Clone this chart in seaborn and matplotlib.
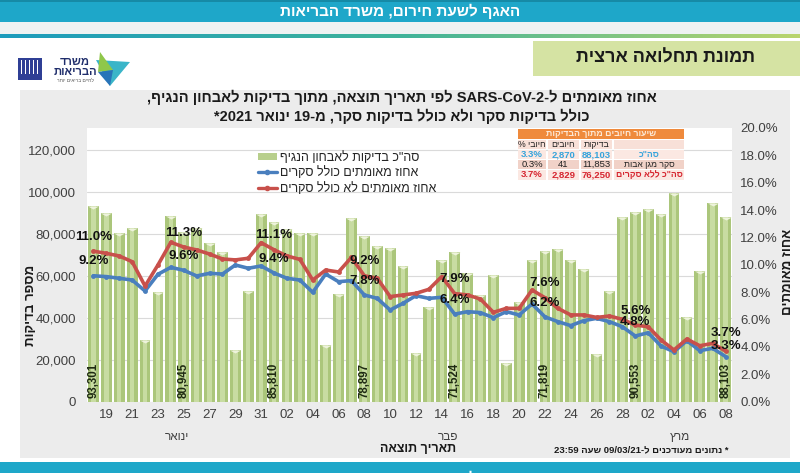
import re
import numpy as np
import pandas as pd
import matplotlib
matplotlib.use("Agg")
import matplotlib.pyplot as plt
import matplotlib.transforms as mtransforms
from matplotlib.patches import Rectangle, Polygon, Patch
from matplotlib.lines import Line2D
import seaborn as sns

# ---------------- data ----------------
start_date = "2021-01-18"
tests = [93301, 90100, 80250, 82960, 29300, 52200, 88500, 80945, 82960, 75800,
         71500, 24800, 52700, 89300, 85810, 82480, 80570, 80300, 27200, 51400,
         87700, 78897, 74200, 73400, 64600, 23250, 45060, 67500, 71524, 61500,
         51000, 60350, 18470, 47600, 67360, 71819, 72900, 67360, 63500, 22800,
         52700, 88060, 90553, 91700, 89650, 99360, 40290, 62260, 94900, 88103]
pct_incl = [9.2, 9.14, 9.02, 8.89, 8.09, 9.31, 9.82, 9.6, 9.19, 9.38,
            9.33, 9.99, 9.75, 9.92, 9.4, 9.02, 8.89, 7.99, 9.33, 8.77,
            8.85, 7.8, 7.55, 6.70, 7.19, 7.75, 7.55, 7.63, 6.4, 6.58,
            6.51, 6.14, 6.58, 6.34, 7.14, 6.2, 5.85, 5.56, 5.92, 6.09,
            5.85, 5.48, 4.8, 5.04, 4.07, 3.65, 4.46, 3.73, 3.90, 3.3]
pct_excl = [11.0, 10.84, 10.65, 10.23, 8.45, 9.99, 11.65, 11.3, 11.09, 10.79,
            10.43, 10.36, 10.48, 11.62, 11.1, 10.65, 10.4, 8.89, 9.62, 9.48,
            10.55, 9.2, 9.02, 7.68, 7.80, 7.92, 8.21, 9.14, 7.9, 7.80,
            7.50, 6.53, 6.82, 6.82, 8.16, 7.6, 6.82, 6.34, 6.34, 6.16,
            6.26, 6.02, 5.6, 5.48, 4.51, 3.78, 4.58, 4.09, 4.26, 3.7]
label_idx = [0, 7, 14, 21, 28, 35, 42, 49]
month_names = {1: "ינואר", 2: "פבר", 3: "מרץ"}

legend_labels = ['סה"כ בדיקות לאבחון הנגיף', "אחוז מאומתים כולל סקרים",
                 "אחוז מאומתים לא כולל סקרים"]
table_title = "שיעור חיובים מתוך הבדיקות"
table_cols = ["חיובי %", "חיובים", "בדיקות"]
table_rows = ['סה"כ', "סקר מגן אבות", 'סה"כ ללא סקרים']
table_pct = ["3.3%", "0.3%", "3.7%"]
table_pos = ["2,870", "41", "2,829"]
table_tests = ["88,103", "11,853", "76,250"]

title1 = "אחוז מאומתים ל-SARS-CoV-2 לפי תאריך תוצאה, מתוך בדיקות לאבחון הנגיף,"
title2 = "כולל בדיקות סקר ולא כולל בדיקות סקר, מ-19 ינואר 2021*"
header_text = "האגף לשעת חירום, משרד הבריאות"
box_text = "תמונת תחלואה ארצית"
ylabel_left = "מספר בדיקות"
ylabel_right = "אחוז מאומתים"
xlabel = "תאריך תוצאה"
footnote = "* נתונים מעודכנים ל-09/03/21 שעה 23:59"


def heb(s):
    """Simple visual reordering for RTL Hebrew text with embedded LTR runs."""
    r = s[::-1]
    return re.sub(r"[A-Za-z0-9%]+(?:[\-.,:/][A-Za-z0-9%]+)*",
                  lambda m: m.group(0)[::-1], r)


# ---------------- style ----------------
sns.set_theme(style="white")
plt.rcParams["font.family"] = ["Liberation Sans", "DejaVu Sans"]

W, H = 800, 473
fig = plt.figure(figsize=(W / 100, H / 100), dpi=100)
fig.patch.set_facecolor("white")


def fx(x):
    return x / W


def fy(y):
    return 1 - y / H


def frect(x0, y0, x1, y1, color, z=0, **kw):
    fig.patches.append(Rectangle((fx(x0), fy(y1)), fx(x1) - fx(x0), fy(y0) - fy(y1),
                                 transform=fig.transFigure, facecolor=color,
                                 edgecolor=kw.pop("ec", "none"), zorder=z, **kw))


# header band
frect(0, 0, 800, 2, "#168aa6", z=1)
frect(0, 2, 800, 22, "#1ea7c9", z=1)
fig.text(0.5, fy(11.5), heb(header_text), color="white", fontsize=11,
         fontweight="bold", ha="center", va="center", zorder=4)
frect(0, 22, 800, 34, "#eef2f2", z=1)
# gradient line
gax = fig.add_axes([0, fy(38), 1, 4 / H])
grad = np.linspace(0, 1, 256)[None, :]
gcmap = matplotlib.colors.LinearSegmentedColormap.from_list("g", ["#1c9cbd", "#3fb39a", "#b9d56d"])
gax.imshow(grad, aspect="auto", cmap=gcmap)
gax.axis("off")

# green box
frect(533, 41, 800, 76, "#d5e3a3", z=1)
fig.text(fx(665), fy(58), heb(box_text), fontsize=13, fontweight="bold",
         color="#1a1a1a", ha="center", va="center", zorder=4)

# logo (simplified)
frect(18, 58, 42, 80, "#2f3f95", z=1)
for xx in [21, 25, 29, 33, 37]:
    frect(xx, 60, xx + 1.3, 74, "#ffffff", z=2)
fig.text(fx(75), fy(62), heb("משרד"), fontsize=8, fontweight="bold", color="#1f2d6b",
         ha="center", va="center")
fig.text(fx(75), fy(72), heb("הבריאות"), fontsize=8, fontweight="bold", color="#1f2d6b",
         ha="center", va="center")
fig.text(fx(75), fy(80), heb("לחיים בריאים יותר"), fontsize=3.5, color="#555555",
         ha="center", va="center")
for pts, col in [([(96, 60), (130, 62), (110, 86)], "#3ab5c8"),
                 ([(100, 52), (113, 70), (98, 72)], "#8fc74a"),
                 ([(98, 72), (113, 70), (110, 86)], "#2874b8")]:
    fig.patches.append(Polygon([(fx(a), fy(b)) for a, b in pts], closed=True,
                               transform=fig.transFigure, facecolor=col,
                               edgecolor="none", zorder=2))

# chart panel
frect(20, 90, 790, 458, "#ececec", z=0)
frect(0, 462, 800, 473, "#1ea7c9", z=1)
fig.text(0.5, fy(478), heb(header_text), color="white", fontsize=11,
         fontweight="bold", ha="center", va="center", zorder=4)

# titles
fig.text(fx(402), fy(97), heb(title1), fontsize=10.5, fontweight="bold",
         ha="center", va="center", color="#1a1a1a", zorder=4)
fig.text(fx(402), fy(116), heb(title2), fontsize=10.5, fontweight="bold",
         ha="center", va="center", color="#1a1a1a", zorder=4)

# ---------------- chart ----------------
dates = pd.date_range(start_date, periods=len(tests))
df = pd.DataFrame({"pos": np.arange(len(tests)), "tests": tests,
                   "incl": pct_incl, "excl": pct_excl})

ax = fig.add_axes([fx(87), fy(401.7), fx(732) - fx(87), fy(128) - fy(401.7)])
ax.set_zorder(5)
ax.set_facecolor("white")
bar_col = "#abc67b"
sns.barplot(data=df, x="pos", y="tests", color=bar_col, width=0.84,
            saturation=1, edgecolor="none", ax=ax, zorder=2)
sns.barplot(data=df, x="pos", y="tests", color="#c8dca2", width=0.34,
            saturation=1, edgecolor="none", ax=ax, zorder=2)
notch = [(-1, 0), (1, 0), (0, -0.55)]
ax.scatter(df["pos"], df["tests"], marker=notch, s=62, color="#eef3dc",
           linewidths=0, zorder=3)
for i in label_idx:
    ax.text(i, 1800, f"{tests[i]:,}", rotation=90, ha="center", va="bottom",
            fontsize=8.3, fontweight="bold", color="#1e2a12", zorder=4)

ax.set_ylim(0, 130500)
ax.set_yticks(range(0, 120001, 20000))
ax.set_yticklabels([f"{v:,}" for v in range(0, 120001, 20000)])
ax.yaxis.grid(True, color="#dadada", lw=0.8)
ax.set_axisbelow(True)
ax.tick_params(axis="y", length=0, pad=8, labelsize=9.5, labelcolor="#404040")
ax.set_xlabel("")
ax.set_ylabel("")

ax2 = ax.twinx()
ax2.set_zorder(6)
sns.lineplot(data=df, x="pos", y="incl", ax=ax2, color="#4a7fbe", lw=2.6,
             marker="o", markersize=3.5, markeredgewidth=0, zorder=5)
sns.lineplot(data=df, x="pos", y="excl", ax=ax2, color="#c8504b", lw=2.6,
             marker="o", markersize=3.5, markeredgewidth=0, zorder=6)
for i in label_idx:
    last = i == label_idx[-1]
    for series, dy in ((pct_excl, 9 if last else 6), (pct_incl, 3 if last else 6)):
        ax2.annotate(f"{series[i]:.1f}%", (i, series[i]), xytext=(0, dy),
                     textcoords="offset points", ha="center", va="bottom",
                     fontsize=9.5, fontweight="bold", color="#111111", zorder=7)
ax2.set_ylim(0, 20)
ax2.set_yticks(range(0, 21, 2))
ax2.set_yticklabels([f"{v:.1f}%" for v in range(0, 21, 2)])
ax2.tick_params(axis="y", length=0, pad=6, labelsize=9.5, labelcolor="#404040")
ax2.set_ylabel("")
ax2.set_xlabel("")

tick_pos = list(range(1, len(tests), 2))
ax.set_xticks(tick_pos)
ax.set_xticklabels([dates[i].strftime("%d") for i in tick_pos])
ax.tick_params(axis="x", length=0, pad=5, labelsize=9.5, labelcolor="#404040")
ax.set_xlim(-0.5, len(tests) - 0.5)

for a in (ax, ax2):
    for s in a.spines.values():
        s.set_visible(False)

# month group labels
trans = mtransforms.blended_transform_factory(ax.transData, ax.transAxes)
for m, name in month_names.items():
    idx = np.where(dates.month == m)[0]
    ax.text((idx[0] + idx[-1]) / 2, -0.128, heb(name), transform=trans,
            ha="center", va="center", fontsize=8.5, color="#404040")

fig.text(fx(418), fy(449), heb(xlabel), fontsize=9, fontweight="bold",
         ha="center", va="center", color="#1a1a1a", zorder=4)
fig.text(fx(728), fy(450), heb(footnote), fontsize=6.8, fontweight="bold",
         ha="right", va="center", color="#1a1a1a", zorder=4)
fig.text(fx(31), fy(305), heb(ylabel_left), rotation=90, fontsize=9.5,
         fontweight="bold", ha="center", va="center", color="#1a1a1a", zorder=4)
fig.text(fx(788), fy(272), heb(ylabel_right), rotation=90, fontsize=9.5,
         fontweight="bold", ha="center", va="center", color="#1a1a1a", zorder=4)

# legend (placed on the chart axes, so it sits above the plot area)
handles = [Patch(facecolor="#b8cf8c", edgecolor="none"),
           Line2D([], [], color="#4a7fbe", lw=2.4, marker="o", ms=3),
           Line2D([], [], color="#c8504b", lw=2.4, marker="o", ms=3)]
leg = ax2.legend(handles, [heb(t) for t in legend_labels], loc="upper left",
                 bbox_to_anchor=(fx(258), fy(151)), bbox_transform=fig.transFigure,
                 frameon=False, fontsize=9, handlelength=1.5, handleheight=0.6,
                 labelspacing=0.2, handletextpad=0.3, borderpad=0, borderaxespad=0)

# summary table (figure coords, drawn on top)
tax = fig.add_axes([0, 0, 1, 1], facecolor="none")
tax.set_zorder(10)
tax.set_xlim(0, W)
tax.set_ylim(H, 0)
tax.axis("off")


def trect(x0, y0, x1, y1, color):
    tax.add_patch(Rectangle((x0, y0), x1 - x0, y1 - y0, facecolor=color, edgecolor="none"))


trect(518, 129, 684, 138.5, "#ef8a3c")
tax.text(601, 133.8, heb(table_title), fontsize=6.3, color="#fde9d6",
         ha="center", va="center", fontweight="bold")
col_x = [(518, 546), (548, 579), (581, 612), (614, 684)]
row_y = [(139.5, 149), (150, 159), (160, 169), (170, 179.5)]
row_bg = ["#f8e0d8", "#fbe8e2", "#f1d2c8", "#fbe8e2"]
for (y0, y1), bg in zip(row_y, row_bg):
    for x0, x1 in col_x:
        trect(x0, y0, x1, y1, bg)
for j, t in enumerate(table_cols):
    cx = sum(col_x[j]) / 2
    tax.text(cx, 144.5, heb(t), fontsize=6.3, ha="center", va="center",
             color="#222222")
row_colors = ["#36a4dc", "#222222", "#d6262f"]
row_weights = ["bold", "normal", "bold"]
for r in range(3):
    yc = sum(row_y[r + 1]) / 2
    vals = [table_pct[r], table_pos[r], table_tests[r], heb(table_rows[r])]
    for j, v in enumerate(vals):
        cx = sum(col_x[j]) / 2
        tax.text(cx, yc, v, fontsize=6.8 if j < 3 else 6.2, ha="center", va="center",
                 color=row_colors[r], fontweight=row_weights[r])

fig.savefig("out.png", dpi=100)
